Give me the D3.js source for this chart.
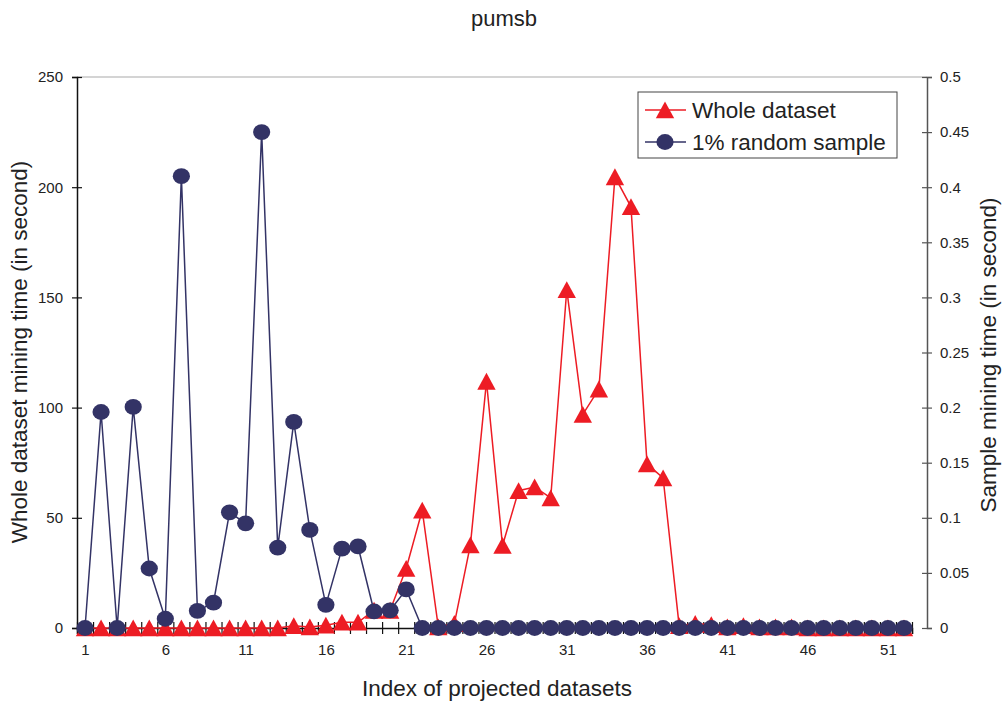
<!doctype html>
<html>
<head>
<meta charset="utf-8">
<script src="https://d3js.org/d3.v7.min.js"></script>
<style>
  body { margin: 0; background: #fff; }
  text { font-family: "Liberation Sans", Arial, sans-serif; fill: #222; }
</style>
</head>
<body>
<div class="graph"></div>
<script>
// index of projected datasets
var idx = [1,2,3,4,5,6,7,8,9,10,11,12,13,14,15,16,17,18,19,20,21,22,23,24,25,26,
           27,28,29,30,31,32,33,34,35,36,37,38,39,40,41,42,43,44,45,46,47,48,49,50,51,52];
// whole dataset mining time (left axis, s)
var whole = [0,0,0,0,0,0,0,0,0,0,0,0,0,1,0.5,1.3,2.6,2.6,8,8,27,53.4,0.5,2,37.7,111.9,
             37.4,62.3,64,59,153.5,96.9,108.4,204.7,191.1,74.4,68.1,1,2,1.5,0.5,1,0.5,0.5,0.5,0,0,0,0,0,0,0];
// 1% random sample mining time (right axis, s)
var sample = [0,0.196,0,0.2006,0.054,0.0084,0.41,0.0156,0.023,0.105,0.095,0.45,0.073,0.187,0.089,
              0.021,0.072,0.074,0.015,0.016,0.035,0,0,0,0,0,0,0,0,0,0,0,0,0,0,0,0,0,0,0,0,0,0,0,0,0,0,0,0,0,0,0];
var leftTicks = [0,50,100,150,200,250];
var rightTicks = [0,0.05,0.1,0.15,0.2,0.25,0.3,0.35,0.4,0.45,0.5];
var xLabels = [1,6,11,16,21,26,31,36,41,46,51];

var width = 1002, height = 704;
var red = "#ed1c24", navy = "#333366";

var svg = d3.select('.graph').append('svg')
    .attr('width', width).attr('height', height);

var x = d3.scaleLinear().domain([0.5, 52.5]).range([77, 912]);
var yl = d3.scaleLinear().domain([0, 250]).range([628, 77]);
var yr = d3.scaleLinear().domain([0, 0.5]).range([628, 77]);

// top frame line
svg.append('line').attr('x1', 77).attr('x2', 927).attr('y1', 77).attr('y2', 77)
   .attr('stroke', '#aaa').attr('stroke-width', 1.2);

// left axis
var gl = svg.append('g').attr('transform', 'translate(77,0)')
   .call(d3.axisLeft(yl).tickValues(leftTicks).tickSize(5).tickPadding(9));
gl.select('.domain').attr('stroke', '#111').attr('stroke-width', 1.5);
gl.selectAll('.tick line').attr('x1', 5).attr('x2', -5).attr('stroke', '#111').attr('stroke-width', 1.2);
gl.selectAll('.tick text').style('font-size', '15px').attr('fill', '#222');

// right axis
var gr = svg.append('g').attr('transform', 'translate(927,0)')
   .call(d3.axisRight(yr).tickValues(rightTicks).tickSize(5).tickPadding(8)
         .tickFormat(function(d){ return d3.format('')(+d.toFixed(2)); }));
gr.select('.domain').attr('stroke', '#555').attr('stroke-width', 1.5);
gr.selectAll('.tick line').attr('x1', -5).attr('x2', 5).attr('stroke', '#555').attr('stroke-width', 1.2);
gr.selectAll('.tick text').style('font-size', '15px').attr('fill', '#222');

// bottom axis: marks at category boundaries, labels every 5
var bounds = idx.map(function(d){ return d - 0.5; }).concat([52.5]);
var gb = svg.append('g').attr('transform', 'translate(0,628)')
   .call(d3.axisBottom(x).tickValues(bounds).tickSize(6).tickFormat(''));
gb.select('.domain').attr('stroke', '#111').attr('stroke-width', 1.5);
gb.selectAll('.tick line').attr('y1', -6).attr('y2', 6).attr('stroke', '#111').attr('stroke-width', 1.2);
var gbl = svg.append('g').attr('transform', 'translate(0,628)')
   .call(d3.axisBottom(x).tickValues(xLabels).tickSize(0).tickPadding(16));
gbl.select('.domain').remove();
gbl.selectAll('.tick text').style('font-size', '15px').attr('fill', '#222');

// whole dataset series
var tri = 'M0,-8.5L9.2,8.3L-9.2,8.3Z';
var lineW = d3.line().x(function(d, i){ return x(idx[i]); }).y(function(d){ return yl(d); });
svg.append('path').datum(whole).attr('d', lineW)
   .attr('fill', 'none').attr('stroke', red).attr('stroke-width', 1.5);
svg.append('g').selectAll('path').data(whole).enter().append('path')
   .attr('d', tri)
   .attr('transform', function(d, i){ return 'translate(' + x(idx[i]) + ',' + yl(d) + ')'; })
   .attr('fill', red);

// sample series
var lineS = d3.line().x(function(d, i){ return x(idx[i]); }).y(function(d){ return yr(d); });
svg.append('path').datum(sample).attr('d', lineS)
   .attr('fill', 'none').attr('stroke', navy).attr('stroke-width', 1.5);
svg.append('g').selectAll('ellipse').data(sample).enter().append('ellipse')
   .attr('cx', function(d, i){ return x(idx[i]); })
   .attr('cy', function(d){ return yr(d); })
   .attr('rx', 8.6).attr('ry', 7.9)
   .attr('fill', navy);

// legend
var lg = svg.append('g');
lg.append('rect').attr('x', 638).attr('y', 92).attr('width', 259).attr('height', 66)
  .attr('fill', '#fff').attr('stroke', '#444').attr('stroke-width', 1);
lg.append('line').attr('x1', 645).attr('x2', 686).attr('y1', 110).attr('y2', 110)
  .attr('stroke', red).attr('stroke-width', 1.5);
lg.append('path').attr('d', tri).attr('transform', 'translate(665,110)').attr('fill', red);
lg.append('line').attr('x1', 645).attr('x2', 686).attr('y1', 142).attr('y2', 142)
  .attr('stroke', navy).attr('stroke-width', 1.5);
lg.append('ellipse').attr('cx', 665).attr('cy', 142).attr('rx', 8.6).attr('ry', 7.9).attr('fill', navy);
lg.append('text').attr('x', 692).attr('y', 118).style('font-size', '22.5px').text('Whole dataset');
lg.append('text').attr('x', 692).attr('y', 150).style('font-size', '22.5px').text('1% random sample');

// titles
svg.append('text').attr('x', 504).attr('y', 26).attr('text-anchor', 'middle')
   .style('font-size', '22px').text('pumsb');
svg.append('text').attr('x', 497).attr('y', 696).attr('text-anchor', 'middle')
   .style('font-size', '22.5px').text('Index of projected datasets');
svg.append('text').attr('transform', 'translate(27,352) rotate(-90)').attr('text-anchor', 'middle')
   .style('font-size', '22.5px').text('Whole dataset mining time (in second)');
svg.append('text').attr('transform', 'translate(996,355) rotate(-90)').attr('text-anchor', 'middle')
   .style('font-size', '22.5px').text('Sample mining time (in second)');
</script>
</body>
</html>
